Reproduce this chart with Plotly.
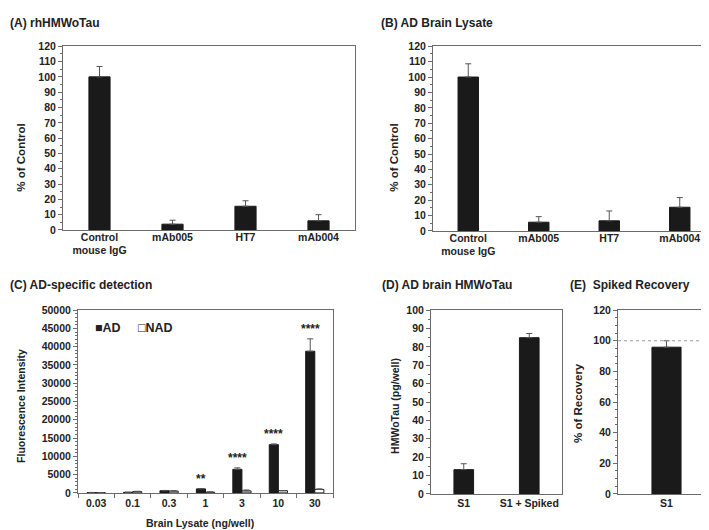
import plotly.graph_objects as go

W, H = 709, 530
FONT = "Liberation Sans, Arial, sans-serif"
INK = "#222222"
BAR = "#1a1a1a"
AXIS = "#6b6b6b"

# (A) rhHMWoTau
a_labels = ["Control<br>mouse IgG", "mAb005", "HT7", "mAb004"]
a_values = [100, 3.8, 15.5, 6.0]
a_errors = [6.8, 2.6, 3.6, 4.0]

# (B) AD Brain Lysate
b_labels = ["Control<br>mouse IgG", "mAb005", "HT7", "mAb004"]
b_values = [100, 5.7, 6.6, 15.4]
b_errors = [8.6, 3.6, 6.4, 6.3]

# (C) AD-specific detection
c_doses = ["0.03", "0.1", "0.3", "1", "3", "10", "30"]
c_ad = [100, 150, 600, 1100, 6450, 13200, 38750]
c_ad_err = [30, 50, 80, 100, 400, 200, 3400]
c_nad = [60, 350, 500, 200, 550, 600, 950]
c_nad_err = [20, 100, 100, 80, 250, 50, 150]
c_stars = ["", "", "", "**", "****", "****", "****"]

# (D) AD brain HMWoTau
d_labels = ["S1", "S1 + Spiked"]
d_values = [13.2, 85.0]
d_errors = [3.2, 2.3]

# (E) Spiked Recovery
e_labels = ["S1"]
e_values = [95.8]
e_errors = [4.2]
e_reference = 100


def px_x(x):
    return x / W


def px_y(y):
    return 1 - y / H


def no_minus(values):
    return [0] * len(values)


fig = go.Figure()


def add_bars(x, y, err, xa, ya, width, offset=None, color=BAR, name=None):
    fig.add_trace(go.Bar(
        x=x, y=y, xaxis=xa, yaxis=ya, width=width, offset=offset,
        marker=dict(color=color, line=dict(color=BAR, width=1)),
        error_y=dict(type="data", symmetric=False, array=err, arrayminus=no_minus(err),
                     color="#555555", thickness=1, width=3),
        name=name, showlegend=False,
    ))


add_bars(a_labels, a_values, a_errors, "x", "y", 0.29)
add_bars(b_labels, b_values, b_errors, "x2", "y2", 0.29)
add_bars(c_doses, c_ad, c_ad_err, "x3", "y3", 0.25, offset=-0.25, name="AD")
add_bars(c_doses, c_nad, c_nad_err, "x3", "y3", 0.25, offset=0.0, color="white", name="NAD")
add_bars(d_labels, d_values, d_errors, "x4", "y4", 0.3)
add_bars(e_labels, e_values, e_errors, "x5", "y5", 0.3)

tickfont = dict(family=FONT, size=10.5, color=INK, weight="bold")
xtickfont = dict(family=FONT, size=10.5, color=INK, weight="bold")


def xaxis(dom, anchor, n, ticks="", standoff=0):
    ax = dict(domain=[px_x(dom[0]), px_x(dom[1])], anchor=anchor, type="category",
              range=[-0.5, n - 0.5],
              showline=True, linecolor=AXIS, linewidth=1, mirror=True,
              ticks=ticks, ticklen=4, tickcolor=AXIS, ticklabelstandoff=standoff,
              tickfont=xtickfont, showgrid=False, zeroline=False, fixedrange=True)
    if ticks:
        ax["tickson"] = "boundaries"
    return ax


def yaxis(dom, anchor, rng, dtick, minor):
    return dict(domain=[px_y(dom[1]), px_y(dom[0])], anchor=anchor, range=rng,
                dtick=dtick, tickformat="d", showline=True, linecolor=AXIS, linewidth=1,
                mirror=True, ticks="outside", ticklen=4, tickcolor=AXIS,
                minor=dict(dtick=minor, ticks="outside", ticklen=2, tickcolor=AXIS),
                tickfont=tickfont, showgrid=False, zeroline=False, fixedrange=True)


fig.update_layout(
    width=W, height=H,
    margin=dict(l=0, r=0, t=0, b=0),
    paper_bgcolor="white", plot_bgcolor="white",
    font=dict(family=FONT, color=INK),
    showlegend=False,
    xaxis=xaxis((55, 347), "y", len(a_labels), standoff=-3),
    yaxis=yaxis((33, 221), "x", [0, 120], 10, 5),
    xaxis2=xaxis((425, 707), "y2", len(b_labels), standoff=-3),
    yaxis2=yaxis((33, 222), "x2", [0, 120], 10, 5),
    xaxis3=xaxis((70, 325), "y3", len(c_doses), ticks="outside"),
    yaxis3=yaxis((303, 490), "x3", [0, 50000], 5000, 1000),
    xaxis4=xaxis((423, 554), "y4", len(d_labels)),
    yaxis4=yaxis((303, 491), "x4", [0, 100], 10, 5),
    xaxis5=xaxis((610, 707), "y5", len(e_labels)),
    yaxis5=yaxis((303, 491), "x5", [0, 120], 20, 5),
)

# dotted 100% reference line in (E)
fig.add_shape(type="line", xref="x5 domain", yref="y5", x0=0, x1=1,
              y0=e_reference, y1=e_reference,
              line=dict(color="#9a9a9a", width=1, dash="dot"))

# legend for (C)
for text, x in [("\u25a0AD", 85), ("\u25a1NAD", 128)]:
    fig.add_annotation(text=text, xref="paper", yref="paper", x=px_x(x), y=px_y(321),
                       xanchor="left", yanchor="middle", showarrow=False,
                       font=dict(family=FONT, size=12.5, color=INK, weight="bold"))

# panel titles
titles = [("(A) rhHMWoTau", 0, 9), ("(B) AD Brain Lysate", 371, 9),
          ("(C) AD-specific detection", 0, 277), ("(D) AD brain HMWoTau", 372, 277),
          ("(E)  Spiked Recovery", 560, 277)]
for text, x, y in titles:
    fig.add_annotation(text=text, xref="paper", yref="paper", x=px_x(x), y=px_y(y),
                       xanchor="left", yanchor="middle", showarrow=False,
                       font=dict(family=FONT, size=12, color=INK, weight="bold"))

# axis titles
axis_titles = [("% of Control", 13, 147, -90, 11.5), ("% of Control", 386, 147, -90, 11.5),
               ("Fluorescence Intensity", 13, 401, -90, 10.5),
               ("HMWoTau (pg/well)", 387, 401, -90, 10.5),
               ("% of Recovery", 570, 398, -90, 11.5),
               ("Brain Lysate (ng/well)", 192, 521, 0, 10.5)]
for text, x, y, angle, size in axis_titles:
    fig.add_annotation(text=text, xref="paper", yref="paper", x=px_x(x), y=px_y(y),
                       xanchor="center", yanchor="middle", showarrow=False, textangle=angle,
                       font=dict(family=FONT, size=size, color=INK, weight="bold"))

# significance stars above AD bars (x as category index)
for i, (val, err, star) in enumerate(zip(c_ad, c_ad_err, c_stars)):
    if star:
        fig.add_annotation(text=star, xref="x3", yref="y3", x=i - 0.125, y=val + err,
                           yshift=1, xanchor="center", yanchor="bottom",
                           showarrow=False,
                           font=dict(family=FONT, size=12, color=INK, weight="bold"))

fig.write_html("out.html")
